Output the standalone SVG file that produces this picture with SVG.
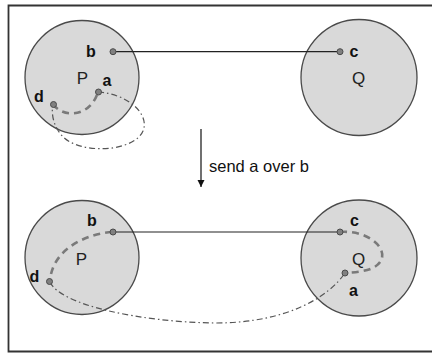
<svg xmlns="http://www.w3.org/2000/svg" width="432" height="354" viewBox="0 0 432 354">
  <style>
    .proc { fill: #d9d9d9; stroke: #4a4a4a; stroke-width: 1.3; }
    .port { fill: #808080; stroke: #4a4a4a; stroke-width: 1; }
    .lbl { font-family: "Liberation Sans", Arial, sans-serif; font-size: 16px; font-weight: bold; fill: #111; text-anchor: middle; }
    .name { font-family: "Liberation Sans", Arial, sans-serif; font-size: 17px; fill: #222; text-anchor: middle; }
    .cap { font-family: "Liberation Sans", Arial, sans-serif; font-size: 16.5px; fill: #111; }
    .chan { fill: none; stroke: #222; stroke-width: 1.2; }
    .inner { fill: none; stroke: #7a7a7a; stroke-width: 2.6; stroke-dasharray: 7 5; }
    .link { fill: none; stroke: #555; stroke-width: 1.2; stroke-dasharray: 6 3 1.5 3; }
  </style>
  <defs>
    <marker id="head" markerWidth="8" markerHeight="8" refX="7" refY="4" orient="auto" markerUnits="userSpaceOnUse">
      <path d="M0,0.5 L7,4 L0,7.5 Z" fill="#111"/>
    </marker>
  </defs>
  <rect width="432" height="354" fill="#fff"/>
  <!-- frame (open on the right) -->
  <path d="M440,5.5 H8.5 V351.5 H440" fill="none" stroke="#333" stroke-width="1.8"/>

  <!-- before -->
  <g id="P-before">
    <circle class="proc" cx="82" cy="77.5" r="57"/>
    <text class="name" x="82.5" y="84">P</text>
  </g>
  <g id="Q-before">
    <circle class="proc" cx="359" cy="77.5" r="58"/>
    <text class="name" x="358.5" y="84">Q</text>
  </g>

  <!-- after -->
  <g id="P-after">
    <circle class="proc" cx="82" cy="257.5" r="57"/>
    <text class="name" x="81.5" y="265">P</text>
  </g>
  <g id="Q-after">
    <circle class="proc" cx="359" cy="258" r="58"/>
    <text class="name" x="358.5" y="265">Q</text>
  </g>

  <g id="connectors">
    <!-- before: channel b-c, a-d internal and external -->
    <line class="chan" x1="113" y1="51.7" x2="340" y2="51.7"/>
    <path class="inner" d="M53,104 C62,118 90,118 98,92"/>
    <path class="link" d="M98,92 C128,94 150,114 143,131 C136,148 96,155 70,142 C57,135 50,118 53,104"/>

    <!-- after: channel b-c, b-d internal, d-a across -->
    <line class="chan" x1="113" y1="232" x2="340" y2="232"/>
    <path class="inner" d="M112,232 C85,234 52,250 50,281"/>
    <path class="link" d="M50,282 C60,305 140,322 215,323 C290,323 330,295 345,273"/>
    <path class="inner" d="M340,232 C365,230 385,245 382,258 C378,272 355,272 345,273"/>

    <!-- transition arrow -->
    <line x1="201" y1="129" x2="201" y2="187" stroke="#111" stroke-width="1.2" marker-end="url(#head)"/>
    <text class="cap" x="209" y="172">send a over b</text>
  </g>

  <!-- ports -->
  <g id="ports-before">
    <circle class="port" cx="113" cy="51.7" r="3"/>
    <circle class="port" cx="340" cy="51.7" r="3"/>
    <circle class="port" cx="98.5" cy="92" r="3"/>
    <circle class="port" cx="53.5" cy="104.5" r="3"/>
    <text class="lbl" x="91" y="57">b</text>
    <text class="lbl" x="107" y="86">a</text>
    <text class="lbl" x="39" y="102">d</text>
    <text class="lbl" x="354" y="57">c</text>
  </g>
  <g id="ports-after">
    <circle class="port" cx="113" cy="232" r="3"/>
    <circle class="port" cx="340" cy="232" r="3"/>
    <circle class="port" cx="49.5" cy="281.5" r="3"/>
    <circle class="port" cx="345" cy="273" r="3"/>
    <text class="lbl" x="92" y="226">b</text>
    <text class="lbl" x="34.5" y="282">d</text>
    <text class="lbl" x="354.5" y="226">c</text>
    <text class="lbl" x="353.5" y="296">a</text>
  </g>
</svg>
